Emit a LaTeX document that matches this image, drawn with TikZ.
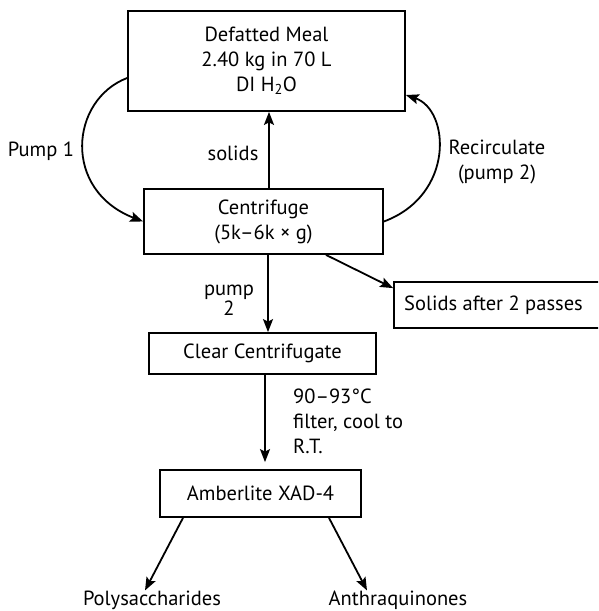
\documentclass[tikz,border=0pt]{standalone}
\usepackage{fontspec}
\setmainfont{PT Sans}
\usepackage{tikz}
\usetikzlibrary{positioning}
\usetikzlibrary{arrows.meta}

\tikzset{
  box/.style={draw=black,line width=1.8pt,align=center,inner sep=0pt},
  flow/.style={-{Stealth[length=13pt,width=10pt,inset=2.5pt]},line width=1.8pt},
  lbl/.style={align=center,inner sep=0pt},
}

\begin{document}
\begin{tikzpicture}[x=1pt,y=-1pt,font=\fontsize{20.5}{25}\selectfont]
                \clip (0,0) rectangle (598,611);
                % boxes
                \node[box,minimum width=277pt,minimum height=100pt] (meal) at (266.5,61)
                    {Defatted Meal\\2.40 kg in 70 L\\DI H\textsubscript{2}O};
                \node[box,minimum width=239pt,minimum height=65pt] (cent) at (263.5,221.5)
                    {Centrifuge\\(5k–6k × g)};
                \node[box,minimum width=208pt,minimum height=46pt] (solids) at (498,305)
                    {\hspace*{-9pt}Solids after 2 passes};
                \node[box,minimum width=227pt,minimum height=41pt] (clear) at (262.5,353.5)
                    {Clear Centrifugate};
                \node[box,minimum width=201pt,minimum height=47pt] (amber) at (260.5,493.5)
                    {Amberlite XAD-4};
                % labels
                \node[lbl] (pumpone) at (41,151) {Pump 1};
                \node[lbl] (solidslbl) at (233,153) {solids};
                \node[lbl] (recirc) at (497,162) {Recirculate\\(pump 2)};
                \node[lbl,font=\fontsize{20.5}{20}\selectfont] (pumptwo) at (229,300) {pump\\2};
                \node[lbl,align=left,anchor=west] (heat) at (293,421)
                    {90–93°C\\filter, cool to\\R.T.};
                \node[lbl] (poly) at (152,600) {Polysaccharides};
                \node[lbl] (anthra) at (398,600) {Anthraquinones};
                % connectors
                \draw[flow] ([xshift=5.5pt]cent.north) -- ([xshift=5.5pt]cent.north |- meal.south);
                \draw[flow] ([yshift=-17pt]meal.west) .. controls (70,100) and (62,190) .. (cent.west);
                \draw[flow] (cent.east) .. controls (455,195) and (450,110) .. ([yshift=-34pt]meal.east);
                \draw[flow] ([xshift=4.5pt]cent.south) -- ([xshift=4.5pt]cent.south |- clear.north);
                \draw[flow] ([xshift=62.5pt]cent.south) -- ([yshift=-7pt]solids.north west);
                \draw[flow,shorten >=7pt] ([xshift=2.5pt]clear.south) -- ([xshift=2.5pt]clear.south |- amber.north);
                \draw[flow] ([xshift=-77.5pt]amber.south) -- ([xshift=-7pt]poly.north);
                \draw[flow] ([xshift=68.5pt]amber.south) -- ([xshift=-31pt]anthra.north);
\end{tikzpicture}
\end{document}
